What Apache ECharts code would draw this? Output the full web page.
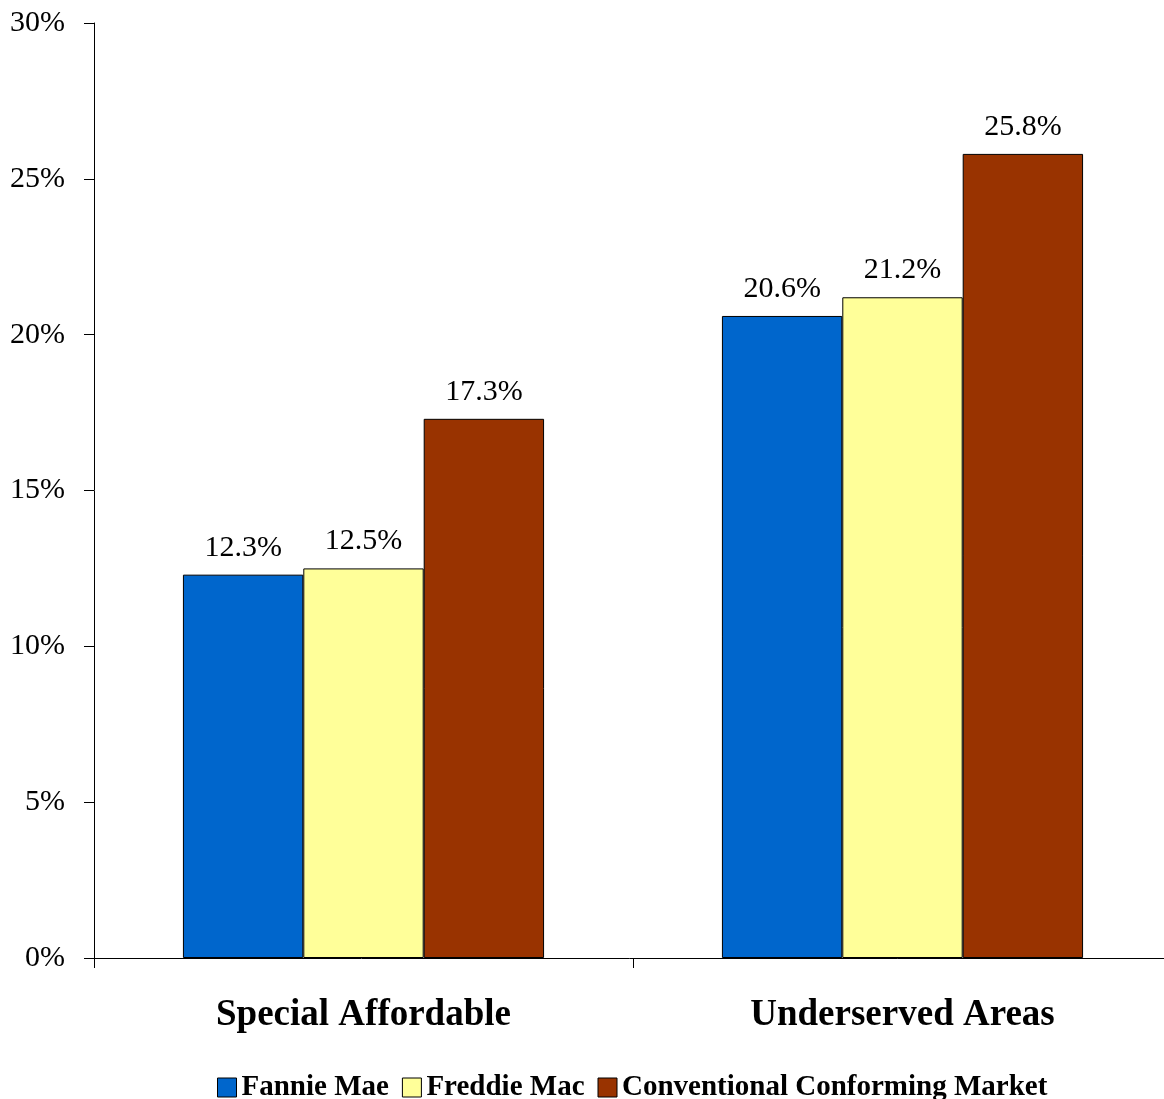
<!DOCTYPE html>
<html><head><meta charset="utf-8">
<script src="https://cdn.jsdelivr.net/npm/echarts@6/dist/echarts.min.js"></script>
<style>html,body{margin:0;padding:0;background:#fff}#c{width:1164px;height:1099px}</style>
</head><body><div id="c"></div>
<script>
const categories = ['Special Affordable', 'Underserved Areas'];
const seriesNames = ['Fannie Mae', 'Freddie Mac', 'Conventional Conforming Market'];
const fannieMae = [12.3, 20.6];
const freddieMac = [12.5, 21.2];
const conventional = [17.3, 25.8];
const colors = ['#0066CC', '#FFFF99', '#993300'];
const font = '"Liberation Serif", "Times New Roman", serif';

const data = [fannieMae, freddieMac, conventional];
const chart = echarts.init(document.getElementById('c'));
chart.setOption({
  animation: false,
  textStyle: { fontFamily: font },
  grid: { left: 94, width: 1078, top: 23, height: 935, containLabel: false, outerBoundsMode: 'none' },
  legend: {
    top: 1068, left: 212,
    itemWidth: 19, itemHeight: 19, itemGap: 13,
    icon: 'rect',
    textStyle: { fontFamily: font, fontSize: 29, fontWeight: 'bold', color: '#000', padding: [0, 0, 0, 0] },
    data: seriesNames.map((n, i) => ({ name: n, itemStyle: { color: colors[i], borderColor: '#000', borderWidth: 1 } }))
  },
  xAxis: {
    type: 'category', data: categories,
    axisLine: { lineStyle: { color: '#000', width: 1 } },
    axisTick: { show: true, length: 10, lineStyle: { color: '#000' } },
    axisLabel: { fontFamily: font, fontSize: 37, fontWeight: 'bold', color: '#000', margin: 39 }
  },
  yAxis: {
    type: 'value', min: 0, max: 30, interval: 5,
    axisLine: { show: true, lineStyle: { color: '#000', width: 1 } },
    axisTick: { show: true, length: 10, lineStyle: { color: '#000' } },
    splitLine: { show: false },
    axisLabel: { fontFamily: font, fontSize: 30, color: '#000', margin: 29, formatter: v => v + '%' }
  },
  series: seriesNames.map((n, i) => ({
    name: n, type: 'bar', data: data[i],
    barGap: '0%', barCategoryGap: '33%',
    itemStyle: { color: colors[i], borderColor: '#000', borderWidth: 1 },
    label: { show: true, position: 'top', distance: 12, fontFamily: font, fontSize: 30, color: '#000', formatter: p => p.value.toFixed(1) + '%' }
  }))
});
</script></body></html>
